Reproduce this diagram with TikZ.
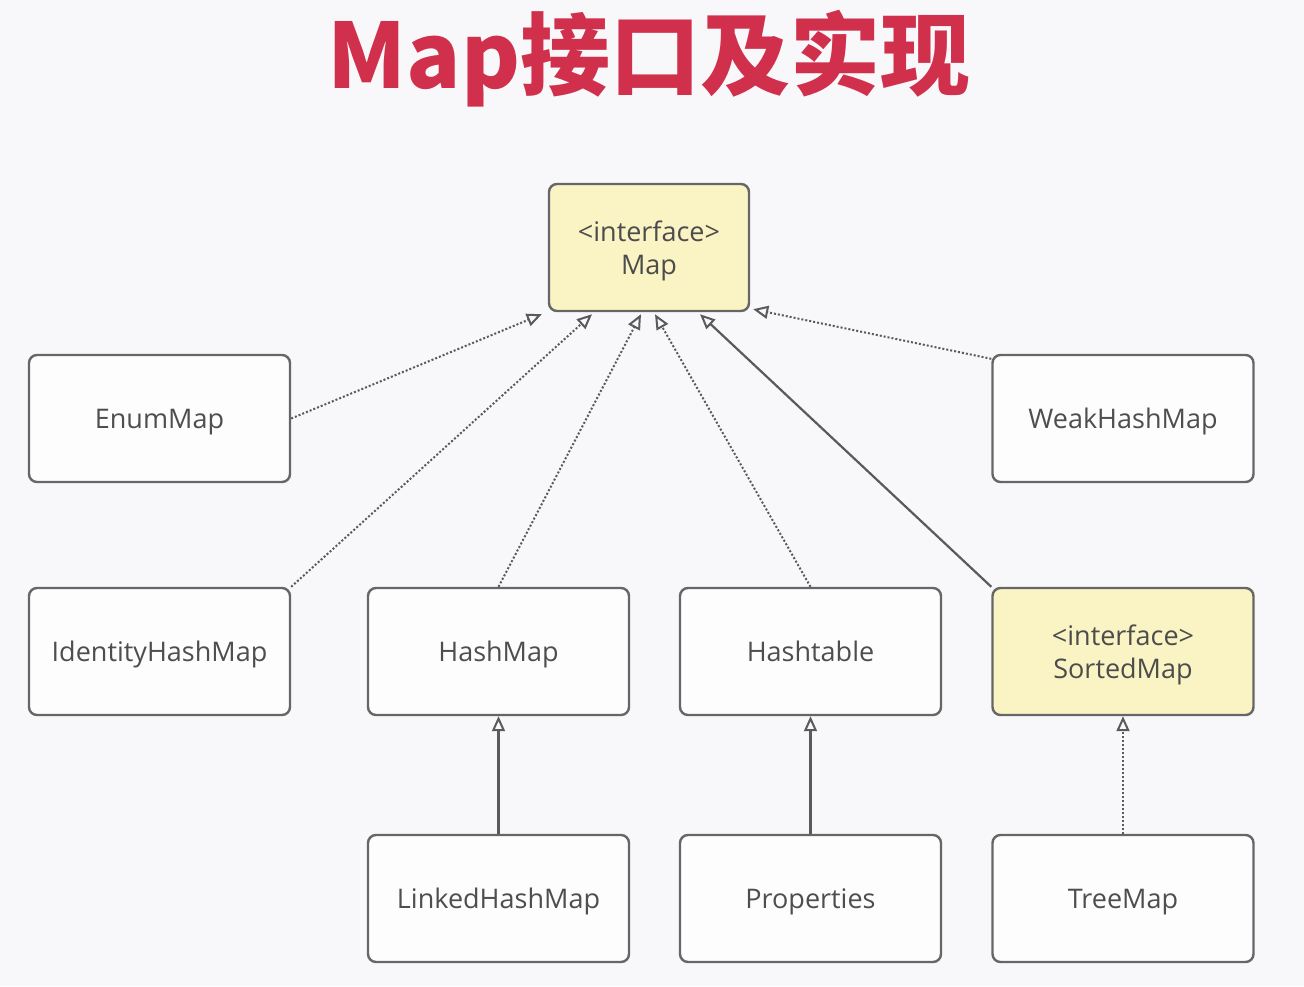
\documentclass[tikz,border=0pt]{standalone}
\usepackage{fontspec}
\setmainfont{Open Sans}
\newfontfamily\cjk{Noto Sans CJK SC}
\usetikzlibrary{arrows.meta,calc}
\definecolor{bgc}{HTML}{F8F8FA}
\definecolor{boxfill}{HTML}{FDFDFD}
\definecolor{yel}{HTML}{FAF4C4}
\definecolor{edge}{HTML}{666666}
\definecolor{conn}{HTML}{5A5A5A}
\definecolor{txt}{HTML}{4E4E4E}
\definecolor{titlered}{HTML}{D0304C}
\begin{document}
\begin{tikzpicture}[x=1pt,y=-1pt,
  cls/.style={draw=edge, line width=2.4pt, rounded corners=8pt, fill=boxfill,
    minimum width=261pt, minimum height=127pt, inner sep=0pt,
    font=\fontsize{27}{33}\selectfont, text=txt, align=center,
    text height=19pt, text depth=0pt},
  iface/.style={cls, fill=yel, text=black!70, text height=54pt, text depth=0pt},
  realize/.style={draw=conn, line width=2pt, dotted,
    -{Triangle[open, length=15pt, width=13pt, line width=2pt]}},
  inherit/.style={draw=conn, line width=2.2pt,
    -{Triangle[open, length=15pt, width=13pt, line width=2pt]}}]
\fill[bgc] (0,0) rectangle (1304,986);
\useasboundingbox (0,0) rectangle (1304,986);
\node[text=titlered, font=\cjk\bfseries\fontsize{90}{100}\selectfont] (title) at (649,59) {Map接口及实现};
\node[iface, minimum width=200pt] (map) at (649,247.5) {<interface>\\Map};
\node[cls] (enum) at (159.5,418.5) {EnumMap};
\node[cls] (weak) at (1123,418.5) {WeakHashMap};
\node[cls] (ident) at (159.5,651.5) {IdentityHashMap};
\node[cls] (hash) at (498.5,651.5) {HashMap};
\node[cls] (htable) at (810.5,651.5) {Hashtable};
\node[iface] (sorted) at (1123,651.5) {<interface>\\SortedMap};
\node[cls] (linked) at (498.5,898.5) {LinkedHashMap};
\node[cls] (props) at (810.5,898.5) {Properties};
\node[cls] (tree) at (1123,898.5) {TreeMap};
\draw[realize] (enum.east) -- ($(map.south west)+(-6,2)$);
\draw[realize] (ident.north east) -- ($(map.south)+(-57,2)$);
\draw[realize] (hash.north) -- ($(map.south)+(-8,2)$);
\draw[realize] (htable.north) -- ($(map.south)+(6,2)$);
\draw[inherit] (sorted.north west) -- ($(map.south)+(51,2)$);
\draw[realize] ($(weak.north west)+(0,5)$) -- ($(map.south east)+(3,-3)$);
\draw[inherit] (linked.north) -- (hash.south);
\draw[inherit] (props.north) -- (htable.south);
\draw[realize] (tree.north) -- (sorted.south);
\end{tikzpicture}
\end{document}
